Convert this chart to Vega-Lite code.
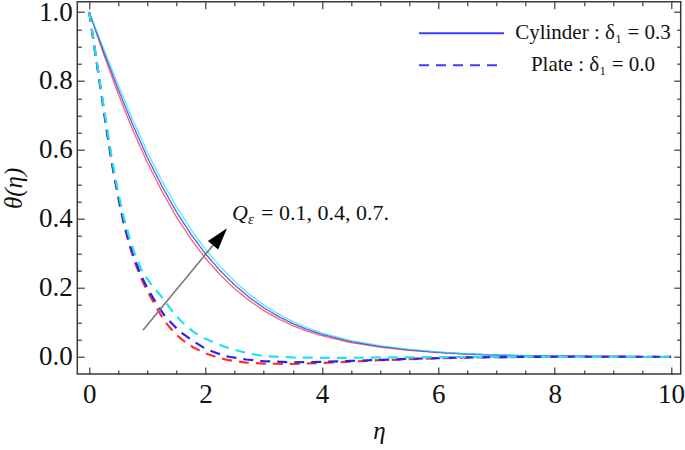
{
  "$schema": "https://vega.github.io/schema/vega-lite/v6.json",
  "width": 603.4,
  "height": 372.3,
  "autosize": {"type": "none"},
  "padding": {"left": 77.3, "top": 1.7, "right": 4.3, "bottom": 76},
  "background": "white",
  "config": {
    "view": {"stroke": "#3a3a3a", "strokeWidth": 1.5},
    "font": "Liberation Serif",
    "axis": {"labelFont": "Liberation Serif", "titleFont": "Liberation Serif"},
    "legend": {"labelFont": "Liberation Serif"},
    "text": {"font": "Liberation Serif"}
  },
  "datasets": {
    "cyl": [
      {"eta":0,"theta":1.0,"Q":"0.1","g":"c"},{"eta":0.25,"theta":0.877,"Q":"0.1","g":"c"},{"eta":0.5,"theta":0.762,"Q":"0.1","g":"c"},{"eta":0.75,"theta":0.657,"Q":"0.1","g":"c"},{"eta":1.0,"theta":0.563,"Q":"0.1","g":"c"},{"eta":1.25,"theta":0.48,"Q":"0.1","g":"c"},{"eta":1.5,"theta":0.405,"Q":"0.1","g":"c"},{"eta":1.75,"theta":0.341,"Q":"0.1","g":"c"},{"eta":2.0,"theta":0.285,"Q":"0.1","g":"c"},{"eta":2.25,"theta":0.238,"Q":"0.1","g":"c"},{"eta":2.5,"theta":0.197,"Q":"0.1","g":"c"},{"eta":2.75,"theta":0.163,"Q":"0.1","g":"c"},{"eta":3.0,"theta":0.134,"Q":"0.1","g":"c"},{"eta":3.25,"theta":0.11,"Q":"0.1","g":"c"},{"eta":3.5,"theta":0.09,"Q":"0.1","g":"c"},{"eta":3.75,"theta":0.074,"Q":"0.1","g":"c"},{"eta":4.0,"theta":0.061,"Q":"0.1","g":"c"},{"eta":4.5,"theta":0.041,"Q":"0.1","g":"c"},{"eta":5.0,"theta":0.028,"Q":"0.1","g":"c"},{"eta":5.5,"theta":0.0185,"Q":"0.1","g":"c"},{"eta":6.0,"theta":0.012,"Q":"0.1","g":"c"},{"eta":6.5,"theta":0.0072,"Q":"0.1","g":"c"},{"eta":7.0,"theta":0.0045,"Q":"0.1","g":"c"},{"eta":7.5,"theta":0.0027,"Q":"0.1","g":"c"},{"eta":8.0,"theta":0.0018,"Q":"0.1","g":"c"},{"eta":9.0,"theta":0.0009,"Q":"0.1","g":"c"},{"eta":10.0,"theta":0.0,"Q":"0.1","g":"c"},
      {"eta":0,"theta":1.0,"Q":"0.4","g":"c"},{"eta":0.25,"theta":0.885,"Q":"0.4","g":"c"},{"eta":0.5,"theta":0.775,"Q":"0.4","g":"c"},{"eta":0.75,"theta":0.672,"Q":"0.4","g":"c"},{"eta":1.0,"theta":0.578,"Q":"0.4","g":"c"},{"eta":1.25,"theta":0.495,"Q":"0.4","g":"c"},{"eta":1.5,"theta":0.42,"Q":"0.4","g":"c"},{"eta":1.75,"theta":0.355,"Q":"0.4","g":"c"},{"eta":2.0,"theta":0.298,"Q":"0.4","g":"c"},{"eta":2.25,"theta":0.25,"Q":"0.4","g":"c"},{"eta":2.5,"theta":0.208,"Q":"0.4","g":"c"},{"eta":2.75,"theta":0.172,"Q":"0.4","g":"c"},{"eta":3.0,"theta":0.142,"Q":"0.4","g":"c"},{"eta":3.25,"theta":0.117,"Q":"0.4","g":"c"},{"eta":3.5,"theta":0.096,"Q":"0.4","g":"c"},{"eta":3.75,"theta":0.079,"Q":"0.4","g":"c"},{"eta":4.0,"theta":0.065,"Q":"0.4","g":"c"},{"eta":4.5,"theta":0.044,"Q":"0.4","g":"c"},{"eta":5.0,"theta":0.03,"Q":"0.4","g":"c"},{"eta":5.5,"theta":0.02,"Q":"0.4","g":"c"},{"eta":6.0,"theta":0.013,"Q":"0.4","g":"c"},{"eta":6.5,"theta":0.008,"Q":"0.4","g":"c"},{"eta":7.0,"theta":0.005,"Q":"0.4","g":"c"},{"eta":7.5,"theta":0.003,"Q":"0.4","g":"c"},{"eta":8.0,"theta":0.002,"Q":"0.4","g":"c"},{"eta":9.0,"theta":0.001,"Q":"0.4","g":"c"},{"eta":10.0,"theta":0.0,"Q":"0.4","g":"c"},
      {"eta":0,"theta":1.0,"Q":"0.7","g":"c"},{"eta":0.25,"theta":0.893,"Q":"0.7","g":"c"},{"eta":0.5,"theta":0.788,"Q":"0.7","g":"c"},{"eta":0.75,"theta":0.687,"Q":"0.7","g":"c"},{"eta":1.0,"theta":0.593,"Q":"0.7","g":"c"},{"eta":1.25,"theta":0.51,"Q":"0.7","g":"c"},{"eta":1.5,"theta":0.435,"Q":"0.7","g":"c"},{"eta":1.75,"theta":0.369,"Q":"0.7","g":"c"},{"eta":2.0,"theta":0.311,"Q":"0.7","g":"c"},{"eta":2.25,"theta":0.262,"Q":"0.7","g":"c"},{"eta":2.5,"theta":0.219,"Q":"0.7","g":"c"},{"eta":2.75,"theta":0.181,"Q":"0.7","g":"c"},{"eta":3.0,"theta":0.15,"Q":"0.7","g":"c"},{"eta":3.25,"theta":0.124,"Q":"0.7","g":"c"},{"eta":3.5,"theta":0.102,"Q":"0.7","g":"c"},{"eta":3.75,"theta":0.084,"Q":"0.7","g":"c"},{"eta":4.0,"theta":0.069,"Q":"0.7","g":"c"},{"eta":4.5,"theta":0.047,"Q":"0.7","g":"c"},{"eta":5.0,"theta":0.032,"Q":"0.7","g":"c"},{"eta":5.5,"theta":0.0215,"Q":"0.7","g":"c"},{"eta":6.0,"theta":0.014,"Q":"0.7","g":"c"},{"eta":6.5,"theta":0.0088,"Q":"0.7","g":"c"},{"eta":7.0,"theta":0.0055,"Q":"0.7","g":"c"},{"eta":7.5,"theta":0.0033,"Q":"0.7","g":"c"},{"eta":8.0,"theta":0.0022,"Q":"0.7","g":"c"},{"eta":9.0,"theta":0.0011,"Q":"0.7","g":"c"},{"eta":10.0,"theta":0.0,"Q":"0.7","g":"c"}
    ],
    "plate": [
      {"eta":0,"theta":1.0,"Q":"0.1","g":"p"},{"eta":0.1,"theta":0.885,"Q":"0.1","g":"p"},{"eta":0.2,"theta":0.772,"Q":"0.1","g":"p"},{"eta":0.3,"theta":0.655,"Q":"0.1","g":"p"},{"eta":0.4,"theta":0.55,"Q":"0.1","g":"p"},{"eta":0.5,"theta":0.46,"Q":"0.1","g":"p"},{"eta":0.6,"theta":0.38,"Q":"0.1","g":"p"},{"eta":0.7,"theta":0.318,"Q":"0.1","g":"p"},{"eta":0.8,"theta":0.267,"Q":"0.1","g":"p"},{"eta":0.9,"theta":0.225,"Q":"0.1","g":"p"},{"eta":1.0,"theta":0.19,"Q":"0.1","g":"p"},{"eta":1.1,"theta":0.16,"Q":"0.1","g":"p"},{"eta":1.2,"theta":0.13,"Q":"0.1","g":"p"},{"eta":1.3,"theta":0.102,"Q":"0.1","g":"p"},{"eta":1.4,"theta":0.082,"Q":"0.1","g":"p"},{"eta":1.5,"theta":0.064,"Q":"0.1","g":"p"},{"eta":1.6,"theta":0.049,"Q":"0.1","g":"p"},{"eta":1.8,"theta":0.026,"Q":"0.1","g":"p"},{"eta":2.0,"theta":0.01,"Q":"0.1","g":"p"},{"eta":2.2,"theta":-0.002,"Q":"0.1","g":"p"},{"eta":2.4,"theta":-0.01,"Q":"0.1","g":"p"},{"eta":2.7,"theta":-0.017,"Q":"0.1","g":"p"},{"eta":3.0,"theta":-0.02,"Q":"0.1","g":"p"},{"eta":3.5,"theta":-0.021,"Q":"0.1","g":"p"},{"eta":4.0,"theta":-0.018,"Q":"0.1","g":"p"},{"eta":4.5,"theta":-0.014,"Q":"0.1","g":"p"},{"eta":5.0,"theta":-0.01,"Q":"0.1","g":"p"},{"eta":5.5,"theta":-0.007,"Q":"0.1","g":"p"},{"eta":6.0,"theta":-0.004,"Q":"0.1","g":"p"},{"eta":6.5,"theta":-0.002,"Q":"0.1","g":"p"},{"eta":7.0,"theta":-0.001,"Q":"0.1","g":"p"},{"eta":8.0,"theta":0.0,"Q":"0.1","g":"p"},{"eta":9.0,"theta":0.0,"Q":"0.1","g":"p"},{"eta":10.0,"theta":0.0,"Q":"0.1","g":"p"},
      {"eta":0,"theta":1.0,"Q":"0.4","g":"p"},{"eta":0.1,"theta":0.887,"Q":"0.4","g":"p"},{"eta":0.2,"theta":0.775,"Q":"0.4","g":"p"},{"eta":0.3,"theta":0.66,"Q":"0.4","g":"p"},{"eta":0.4,"theta":0.555,"Q":"0.4","g":"p"},{"eta":0.5,"theta":0.465,"Q":"0.4","g":"p"},{"eta":0.6,"theta":0.386,"Q":"0.4","g":"p"},{"eta":0.7,"theta":0.325,"Q":"0.4","g":"p"},{"eta":0.8,"theta":0.274,"Q":"0.4","g":"p"},{"eta":0.9,"theta":0.233,"Q":"0.4","g":"p"},{"eta":1.0,"theta":0.198,"Q":"0.4","g":"p"},{"eta":1.1,"theta":0.17,"Q":"0.4","g":"p"},{"eta":1.2,"theta":0.143,"Q":"0.4","g":"p"},{"eta":1.3,"theta":0.118,"Q":"0.4","g":"p"},{"eta":1.4,"theta":0.1,"Q":"0.4","g":"p"},{"eta":1.5,"theta":0.083,"Q":"0.4","g":"p"},{"eta":1.6,"theta":0.068,"Q":"0.4","g":"p"},{"eta":1.8,"theta":0.044,"Q":"0.4","g":"p"},{"eta":2.0,"theta":0.023,"Q":"0.4","g":"p"},{"eta":2.2,"theta":0.01,"Q":"0.4","g":"p"},{"eta":2.4,"theta":0.0,"Q":"0.4","g":"p"},{"eta":2.7,"theta":-0.008,"Q":"0.4","g":"p"},{"eta":3.0,"theta":-0.013,"Q":"0.4","g":"p"},{"eta":3.5,"theta":-0.016,"Q":"0.4","g":"p"},{"eta":4.0,"theta":-0.015,"Q":"0.4","g":"p"},{"eta":4.5,"theta":-0.012,"Q":"0.4","g":"p"},{"eta":5.0,"theta":-0.009,"Q":"0.4","g":"p"},{"eta":5.5,"theta":-0.006,"Q":"0.4","g":"p"},{"eta":6.0,"theta":-0.004,"Q":"0.4","g":"p"},{"eta":6.5,"theta":-0.002,"Q":"0.4","g":"p"},{"eta":7.0,"theta":-0.001,"Q":"0.4","g":"p"},{"eta":8.0,"theta":0.0,"Q":"0.4","g":"p"},{"eta":9.0,"theta":0.0,"Q":"0.4","g":"p"},{"eta":10.0,"theta":0.0,"Q":"0.4","g":"p"},
      {"eta":0,"theta":1.0,"Q":"0.7","g":"p"},{"eta":0.1,"theta":0.89,"Q":"0.7","g":"p"},{"eta":0.2,"theta":0.78,"Q":"0.7","g":"p"},{"eta":0.3,"theta":0.67,"Q":"0.7","g":"p"},{"eta":0.4,"theta":0.565,"Q":"0.7","g":"p"},{"eta":0.5,"theta":0.475,"Q":"0.7","g":"p"},{"eta":0.6,"theta":0.4,"Q":"0.7","g":"p"},{"eta":0.7,"theta":0.34,"Q":"0.7","g":"p"},{"eta":0.8,"theta":0.29,"Q":"0.7","g":"p"},{"eta":0.9,"theta":0.252,"Q":"0.7","g":"p"},{"eta":1.0,"theta":0.225,"Q":"0.7","g":"p"},{"eta":1.1,"theta":0.203,"Q":"0.7","g":"p"},{"eta":1.2,"theta":0.183,"Q":"0.7","g":"p"},{"eta":1.3,"theta":0.162,"Q":"0.7","g":"p"},{"eta":1.4,"theta":0.138,"Q":"0.7","g":"p"},{"eta":1.5,"theta":0.117,"Q":"0.7","g":"p"},{"eta":1.6,"theta":0.1,"Q":"0.7","g":"p"},{"eta":1.8,"theta":0.071,"Q":"0.7","g":"p"},{"eta":2.0,"theta":0.052,"Q":"0.7","g":"p"},{"eta":2.2,"theta":0.037,"Q":"0.7","g":"p"},{"eta":2.4,"theta":0.025,"Q":"0.7","g":"p"},{"eta":2.7,"theta":0.011,"Q":"0.7","g":"p"},{"eta":3.0,"theta":0.002,"Q":"0.7","g":"p"},{"eta":3.5,"theta":-0.002,"Q":"0.7","g":"p"},{"eta":4.0,"theta":-0.003,"Q":"0.7","g":"p"},{"eta":4.5,"theta":-0.003,"Q":"0.7","g":"p"},{"eta":5.0,"theta":-0.002,"Q":"0.7","g":"p"},{"eta":5.5,"theta":-0.0015,"Q":"0.7","g":"p"},{"eta":6.0,"theta":-0.001,"Q":"0.7","g":"p"},{"eta":6.5,"theta":-0.0005,"Q":"0.7","g":"p"},{"eta":7.0,"theta":0.0,"Q":"0.7","g":"p"},{"eta":8.0,"theta":0.0,"Q":"0.7","g":"p"},{"eta":9.0,"theta":0.0,"Q":"0.7","g":"p"},{"eta":10.0,"theta":0.0,"Q":"0.7","g":"p"}
    ],
    "one": [{"note": "annotation"}]
  },
  "resolve": {"axis": {"x": "independent", "y": "independent"}},
  "layer": [
    {
      "data": {"name": "cyl"},
      "mark": {"type": "line", "strokeWidth": 1.3, "opacity": 0.75},
      "encoding": {
        "x": {"field": "eta", "type": "quantitative",
          "scale": {"domain": [-0.205, 10.165], "nice": false, "zero": false},
          "axis": {"orient": "bottom", "values": [0,0.5,1,1.5,2,2.5,3,3.5,4,4.5,5,5.5,6,6.5,7,7.5,8,8.5,9,9.5,10],
            "labelExpr": "datum.value % 2 == 0 ? format(datum.value, 'd') : ''",
            "tickSize": {"condition": {"test": "datum.value % 2 == 0", "value": -7}, "value": -4},
            "tickColor": "#3a3a3a", "tickWidth": 1.2, "domain": false, "grid": false,
            "labelFont": "Liberation Serif", "labelFontSize": 27, "labelColor": "#111", "labelPadding": 14, "labelFlush": false,
            "title": "η", "titleFont": "Liberation Serif", "titleFontStyle": "italic", "titleFontWeight": "normal", "titleFontSize": 25, "titleColor": "#111", "titlePadding": 11}},
        "y": {"field": "theta", "type": "quantitative",
          "scale": {"domain": [-0.05, 1.03], "nice": false, "zero": false},
          "axis": {"orient": "left", "values": [0,0.05,0.1,0.15,0.2,0.25,0.3,0.35,0.4,0.45,0.5,0.55,0.6,0.65,0.7,0.75,0.8,0.85,0.9,0.95,1.0],
            "labelExpr": "abs(datum.value*5 - round(datum.value*5)) < 0.000001 ? format(datum.value, '.1f') : ''",
            "tickSize": {"condition": {"test": "abs(datum.value*5 - round(datum.value*5)) < 0.000001", "value": -7}, "value": -4},
            "tickColor": "#3a3a3a", "tickWidth": 1.2, "domain": false, "grid": false,
            "labelFont": "Liberation Serif", "labelFontSize": 27, "labelColor": "#111", "labelPadding": 12, "labelFlush": false,
            "title": "θ(η)", "titleFont": "Liberation Serif", "titleFontStyle": "italic", "titleFontWeight": "normal", "titleFontSize": 25, "titleColor": "#111", "titlePadding": 12}},
        "color": {"field": "Q", "type": "nominal", "scale": {"domain": ["0.1","0.4","0.7"], "range": ["#ff2d2d", "#2424ee", "#22e2f2"]}, "legend": null},
        "strokeDash": {"field": "g", "type": "nominal", "scale": {"domain": ["c","p"], "range": [[1,0],[10,7]]},
          "legend": {"orient": "none", "legendX": 373.7, "legendY": 21, "title": null, "padding": 0,
            "symbolType": "M-5,0H5", "symbolSize": 289, "symbolStrokeWidth": 2, "symbolStrokeColor": "#3d3dff", "symbolOpacity": 1,
            "labelExpr": "datum.label == 'c' ? 'Cylinder : δ₁ = 0.3' : 'Plate : δ₁ = 0.0'",
            "labelFont": "Liberation Serif", "labelFontSize": 21, "labelColor": "#111", "labelAlign": "center", "labelOffset": 121, "labelLimit": 400, "rowPadding": 10}}
      }
    },
    {
      "data": {"name": "plate"},
      "mark": {"type": "line", "strokeWidth": 2.2},
      "encoding": {
        "x": {"field": "eta", "type": "quantitative",
          "axis": {"orient": "top", "values": [0,0.5,1,1.5,2,2.5,3,3.5,4,4.5,5,5.5,6,6.5,7,7.5,8,8.5,9,9.5,10], "labels": false,
            "tickSize": {"condition": {"test": "datum.value % 2 == 0", "value": -7}, "value": -4},
            "tickColor": "#3a3a3a", "tickWidth": 1.2, "domain": false, "grid": false, "title": null}},
        "y": {"field": "theta", "type": "quantitative",
          "axis": {"orient": "right", "values": [0,0.05,0.1,0.15,0.2,0.25,0.3,0.35,0.4,0.45,0.5,0.55,0.6,0.65,0.7,0.75,0.8,0.85,0.9,0.95,1.0], "labels": false,
            "tickSize": {"condition": {"test": "abs(datum.value*5 - round(datum.value*5)) < 0.000001", "value": -7}, "value": -4},
            "tickColor": "#3a3a3a", "tickWidth": 1.2, "domain": false, "grid": false, "title": null}},
        "color": {"field": "Q", "type": "nominal", "legend": null},
        "strokeDash": {"field": "g", "type": "nominal",
          "legend": {"orient": "none", "legendX": 373.7, "legendY": 21, "title": null, "padding": 0,
            "symbolType": "M-5,0H5", "symbolSize": 289, "symbolStrokeWidth": 2, "symbolStrokeColor": "#3d3dff", "symbolOpacity": 1,
            "labelExpr": "datum.label == 'c' ? 'Cylinder : δ₁ = 0.3' : 'Plate : δ₁ = 0.0'",
            "labelFont": "Liberation Serif", "labelFontSize": 21, "labelColor": "#111", "labelAlign": "center", "labelOffset": 121, "labelLimit": 400, "rowPadding": 10}}
      }
    },
    {
      "data": {"name": "one"},
      "mark": {"type": "rule", "color": "#7a7a7a", "strokeWidth": 1.6},
      "encoding": {
        "x": {"datum": 0.923, "type": "quantitative", "axis": null},
        "y": {"datum": 0.077, "type": "quantitative", "axis": null},
        "x2": {"datum": 2.13},
        "y2": {"datum": 0.324}
      }
    },
    {
      "data": {"name": "one"},
      "mark": {"type": "point", "shape": "M0,-1L0.6,1L-0.6,1Z", "size": 484, "angle": 39.5, "filled": true, "color": "black", "opacity": 1},
      "encoding": {
        "x": {"datum": 2.248, "type": "quantitative", "axis": null},
        "y": {"datum": 0.348, "type": "quantitative", "axis": null}
      }
    },
    {
      "data": {"name": "one"},
      "mark": {"type": "text", "text": "Q", "font": "Liberation Serif", "fontStyle": "italic", "fontSize": 22, "align": "left", "baseline": "alphabetic", "color": "#111"},
      "encoding": {
        "x": {"datum": 2.454, "type": "quantitative", "axis": null},
        "y": {"datum": 0.397, "type": "quantitative", "axis": null}
      }
    },
    {
      "data": {"name": "one"},
      "mark": {"type": "text", "text": "ε", "font": "Liberation Serif", "fontStyle": "italic", "fontSize": 15, "align": "left", "baseline": "alphabetic", "dx": 16, "dy": 4, "color": "#111"},
      "encoding": {
        "x": {"datum": 2.454, "type": "quantitative", "axis": null},
        "y": {"datum": 0.397, "type": "quantitative", "axis": null}
      }
    },
    {
      "data": {"name": "one"},
      "mark": {"type": "text", "text": "= 0.1, 0.4, 0.7.", "font": "Liberation Serif", "fontSize": 22, "align": "left", "baseline": "alphabetic", "dx": 29, "color": "#111"},
      "encoding": {
        "x": {"datum": 2.454, "type": "quantitative", "axis": null},
        "y": {"datum": 0.397, "type": "quantitative", "axis": null}
      }
    }
  ]
}
